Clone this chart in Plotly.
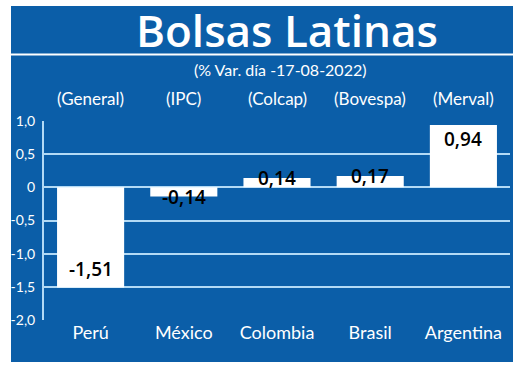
import plotly.graph_objects as go

categories = ["Perú", "México", "Colombia", "Brasil", "Argentina"]
indices = ["(General)", "(IPC)", "(Colcap)", "(Bovespa)", "(Merval)"]
values = [-1.51, -0.14, 0.14, 0.17, 0.94]
tick_values = [1.0, 0.5, 0, -0.5, -1.0, -1.5, -2.0]
tick_labels = ["1,0", "0,5", "0", "-0,5", "-1,0", "-1,5", "-2,0"]
title = "Bolsas Latinas"
subtitle = "(% Var. día -17-08-2022)"

W, H = 520, 367
L, R, T, B = 44, 10, 121, 47
pw, ph = W - L - R, H - T - B

def px(x):
    return (x - L) / pw

def py(y):
    return (H - B - y) / ph

BLUE = "#0b5ea8"
GRID = "#b3daf5"
FONT = "Lato, 'Open Sans', sans-serif"
FONT2 = "'Open Sans', Lato, sans-serif"

fig = go.Figure()
fig.add_trace(go.Bar(
    x=categories, y=values,
    marker=dict(color="white", line=dict(width=0)),
    hoverinfo="skip",
))

annotations = []
for c, v in zip(categories, values):
    txt = f"{v:.2f}".replace(".", ",")
    if abs(v) > 0.5:
        ya = "top" if v > 0 else "bottom"
        ys = 1 if v > 0 else 4
    else:
        ya = "middle"
        ys = 0
    annotations.append(dict(
        x=c, y=v, xref="x", yref="y", text=txt, showarrow=False,
        yanchor=ya, yshift=ys,
        font=dict(family=FONT2, size=19, color="black", weight=600),
    ))

for c, lab in zip(categories, indices):
    annotations.append(dict(
        x=c, y=py(98), xref="x", yref="paper", text=lab, showarrow=False,
        yanchor="middle", font=dict(family=FONT, size=17, color="white"),
    ))

annotations.append(dict(
    x=px(287), y=py(30), xref="paper", yref="paper", text=title, showarrow=False,
    yanchor="middle", xanchor="center",
    font=dict(family=FONT2, size=44, color="white", weight=600),
))
annotations.append(dict(
    x=px(280), y=py(70), xref="paper", yref="paper", text=subtitle, showarrow=False,
    yanchor="middle", xanchor="center",
    font=dict(family=FONT, size=16, color="white"),
))

shapes = [
    dict(type="rect", xref="paper", yref="paper",
         x0=px(11), x1=px(513), y0=py(362), y1=py(6),
         fillcolor=BLUE, line=dict(width=0), layer="below"),
    dict(type="line", xref="paper", yref="paper",
         x0=px(11), x1=px(513), y0=py(54.5), y1=py(54.5),
         line=dict(color="white", width=2)),
]

fig.update_layout(
    width=W, height=H,
    margin=dict(l=L, r=R, t=T, b=B),
    paper_bgcolor="white",
    plot_bgcolor="rgba(0,0,0,0)",
    bargap=0.28,
    showlegend=False,
    annotations=annotations,
    shapes=shapes,
    font=dict(family=FONT, color="white"),
    xaxis=dict(
        showgrid=False, showline=False, zeroline=False,
        tickfont=dict(family=FONT, size=18, color="white"),
        ticks="", fixedrange=True,
    ),
    yaxis=dict(
        range=[-2.0, 1.0],
        tickvals=tick_values, ticktext=tick_labels,
        showgrid=True, gridcolor=GRID, gridwidth=1.5,
        zeroline=True, zerolinecolor=GRID, zerolinewidth=1.5,
        showline=True, linecolor=GRID, linewidth=2,
        tickfont=dict(family=FONT, size=14, color="white"),
        ticks="", ticklabelstandoff=4, fixedrange=True,
    ),
)

fig.write_html("out.html")
